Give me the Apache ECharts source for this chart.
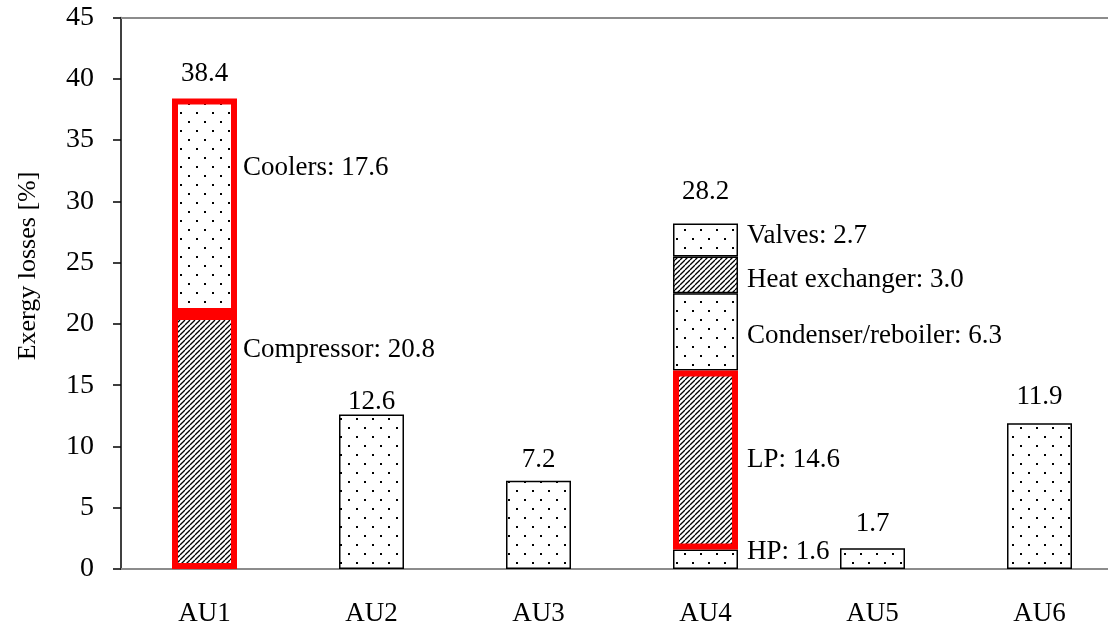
<!DOCTYPE html>
<html>
<head>
<meta charset="utf-8">
<script src="https://cdn.jsdelivr.net/npm/echarts@6/dist/echarts.min.js"></script>
<style>
html,body{margin:0;padding:0;background:#fff;overflow:hidden;width:1108px;height:631px;}
#c{width:1130px;height:631px;}
</style>
</head>
<body>
<div id="c"></div>
<script>
// ---- data ----
const categories = ['AU1', 'AU2', 'AU3', 'AU4', 'AU5', 'AU6'];
// stacked segments, bottom to top
const seg1 = [20.8, 12.6, 7.2, 1.6, 1.7, 11.9];
const seg2 = [17.6, null, null, 14.6, null, null];
const seg3 = [null, null, null, 6.3, null, null];
const seg4 = [null, null, null, 3.0, null, null];
const seg5 = [null, null, null, 2.7, null, null];
const seg1Names = ['Compressor', null, null, 'HP', null, null];
const seg2Names = ['Coolers', null, null, 'LP', null, null];
const seg3Names = [null, null, null, 'Condenser/reboiler', null, null];
const seg4Names = [null, null, null, 'Heat exchanger', null, null];
const seg5Names = [null, null, null, 'Valves', null, null];
const totals = [38.4, 12.6, 7.2, 28.2, 1.7, 11.9];
const yTicks = [0, 5, 10, 15, 20, 25, 30, 35, 40, 45];

// ---- patterns ----
function dotPattern() {
  const c = document.createElement('canvas');
  c.width = 16; c.height = 18;
  const g = c.getContext('2d');
  g.fillStyle = '#fff'; g.fillRect(0, 0, 16, 18);
  g.fillStyle = '#000';
  g.fillRect(4, 4, 2, 2);
  g.fillRect(12, 13, 2, 2);
  return { image: c, repeat: 'repeat' };
}
function hatchPattern() {
  const c = document.createElement('canvas');
  const s = 5;
  c.width = s; c.height = s;
  const g = c.getContext('2d');
  g.fillStyle = '#fff'; g.fillRect(0, 0, s, s);
  g.strokeStyle = '#000'; g.lineWidth = 1.3;
  for (const k of [-s, 0, s]) {
    g.beginPath(); g.moveTo(k, s); g.lineTo(k + s, 0); g.stroke();
  }
  return { image: c, repeat: 'repeat' };
}
const DOTS = dotPattern();
const HATCH = hatchPattern();
const FONT = 'Liberation Serif';

// style settings (not data)
const hatchMap = {
  s1: [true, false, false, false, false, false],
  s2: [false, false, false, true, false, false],
  s3: [false, false, false, false, false, false],
  s4: [false, false, false, true, false, false],
  s5: [false, false, false, false, false, false]
};
const redMap = {
  s1: [true, false, false, false, false, false],
  s2: [true, false, false, true, false, false]
};
const labelOffsets = {
  s1: [[0, -92], null, null, [0, -7], null, null],
  s2: [[0, -38], null, null, [0, 0], null, null],
  s3: [null, null, null, [0, 4], null, null],
  s4: [null, null, null, [0, 5], null, null],
  s5: [null, null, null, [0, -4], null, null]
};
const totalOffsets = [[0, -11], [0, 1], [0, -7], [0, -18], [0, -11], [0, -13]];

function buildSeries(key, vals, names) {
  const data = vals.map((v, i) => {
    if (v === null) return '-';
    const red = redMap[key] && redMap[key][i];
    const item = {
      value: v,
      itemStyle: {
        color: hatchMap[key][i] ? HATCH : DOTS,
        borderColor: red ? '#ff0000' : '#000',
        borderWidth: red ? 6 : 1.5
      }
    };
    if (names[i]) {
      const off = labelOffsets[key][i] || [0, 0];
      item.label = {
        show: true,
        position: 'right',
        distance: i === 0 ? 6 : 9,
        offset: off,
        formatter: names[i] + ': ' + v.toFixed(1)
      };
    } else {
      item.label = { show: false };
    }
    return item;
  });
  return {
    type: 'bar',
    stack: 'a',
    name: key,
    barWidth: 65,
    data: data,
    label: { color: '#000', fontFamily: FONT, fontSize: 27 },
    emphasis: { disabled: true },
    z: 2
  };
}

const chart = echarts.init(document.getElementById('c'), null, { renderer: 'canvas' });
const series = [
  buildSeries('s1', seg1, seg1Names),
  buildSeries('s2', seg2, seg2Names),
  buildSeries('s3', seg3, seg3Names),
  buildSeries('s4', seg4, seg4Names),
  buildSeries('s5', seg5, seg5Names)
];
series[0].z = 3;
series[1].z = 4;
series.push({
  type: 'scatter',
  data: totals.map((t, i) => ({ value: t, label: { offset: totalOffsets[i] } })),
  symbolSize: 0.01,
  itemStyle: { color: 'rgba(0,0,0,0)', opacity: 1 },
  label: {
    show: true, position: 'top', distance: 0,
    color: '#000', opacity: 1, fontFamily: FONT, fontSize: 27,
    formatter: p => p.value.toFixed(1)
  },
  emphasis: { disabled: true },
  z: 10
});

chart.setOption({
  animation: false,
  backgroundColor: '#fff',
  grid: { left: 121, right: 7, top: 17.5, bottom: 62, containLabel: false },
  xAxis: [{
    type: 'category',
    data: categories,
    position: 'bottom',
    axisLine: { show: true, lineStyle: { color: '#8c8c8c', width: 2 } },
    axisTick: { show: false },
    axisLabel: { color: '#000', fontFamily: FONT, fontSize: 27, margin: 31 },
    splitLine: { show: false }
  }, {
    type: 'category',
    data: categories,
    position: 'top',
    axisLine: { show: true, lineStyle: { color: '#8c8c8c', width: 2 } },
    axisTick: { show: false },
    axisLabel: { show: false },
    splitLine: { show: false }
  }],
  yAxis: {
    type: 'value',
    min: yTicks[0], max: yTicks[yTicks.length - 1], interval: 5,
    axisLine: { show: true, lineStyle: { color: '#000', width: 1.5 } },
    axisTick: { show: true, inside: false, length: 8, lineStyle: { color: '#000', width: 1.5 } },
    axisLabel: { color: '#000', fontFamily: FONT, fontSize: 28, margin: 27 },
    splitLine: { show: false }
  },
  graphic: [{
    type: 'text',
    x: 28, y: 266,
    rotation: Math.PI / 2,
    style: {
      text: 'Exergy losses [%]',
      fill: '#000',
      font: '26px "Liberation Serif"',
      textAlign: 'center',
      textVerticalAlign: 'middle'
    }
  }],
  series: series
});
</script>
</body>
</html>
